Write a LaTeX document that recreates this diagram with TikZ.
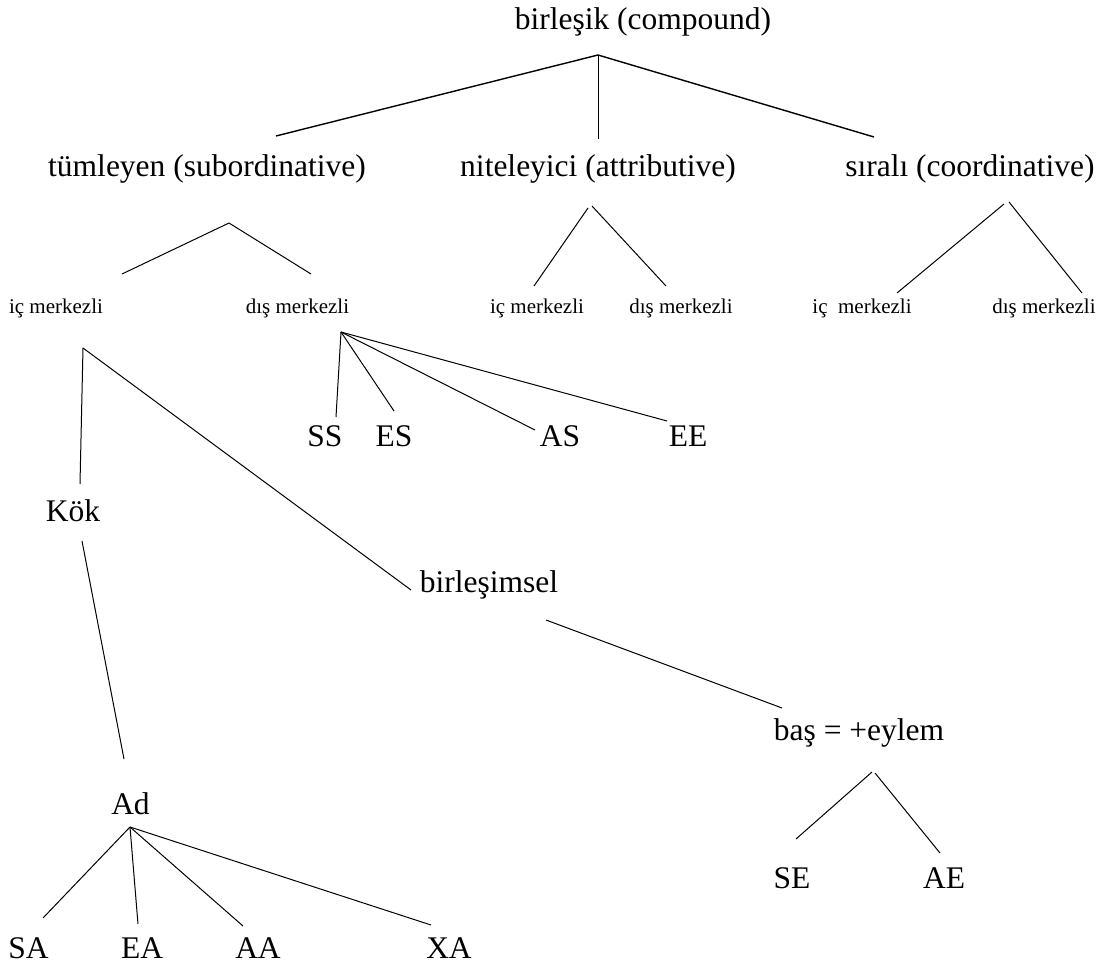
\documentclass[tikz,border=0pt]{standalone}
\usepackage{fontspec}
\setmainfont{Liberation Serif}
\begin{document}
\begin{tikzpicture}[x=1pt,y=-1pt,
  big/.style={inner sep=0pt,anchor=base,font=\fontsize{31.5}{36}\selectfont},
  small/.style={inner sep=0pt,anchor=base,font=\fontsize{21}{25}\selectfont},
  branch/.style={line width=1pt,line cap=butt},
  heavy/.style={line width=1.4pt,line cap=butt}]
\useasboundingbox (0,0) rectangle (1114,969);

% ---- labels ----
\node[big] (root) at (643,29) {birleşik (compound)};

\node[big] (tum) at (207,176) {tümleyen (subordinative)};
\node[big] (nit) at (598,176) {niteleyici (attributive)};
\node[big] (sir) at (970,176) {sıralı (coordinative)};

\node[small] (tumic)  at (56,313)   {iç merkezli};
\node[small] (tumdis) at (297.5,313) {dış merkezli};
\node[small] (nitic)  at (537,313)  {iç merkezli};
\node[small] (nitdis) at (681,313)  {dış merkezli};
\node[small] (siric)  at (862,313)  {iç\ \ merkezli};
\node[small] (sirdis) at (1044,313) {dış merkezli};

\node[big] (ss) at (325,446.5) {SS};
\node[big] (es) at (394,446.5) {ES};
\node[big] (as) at (560,446.5) {AS};
\node[big] (ee) at (688,446.5) {EE};

\node[big] (kok) at (73,521) {Kök};
\node[big] (bir) at (489,592) {birleşimsel};
\node[big] (bas) at (859,740) {baş = +eylem};
\node[big] (se)  at (792,888) {SE};
\node[big] (ae)  at (944,888) {AE};
\node[big] (ad)  at (130.5,814) {Ad};

\node[big] (sa) at (28.5,958) {SA};
\node[big] (ea) at (142,958) {EA};
\node[big] (aa) at (258,958) {AA};
\node[big] (xa) at (449,958) {XA};

% ---- branch end points ----
\coordinate (root-foot) at (598,55);
\coordinate (tum-top) at (276,136);
\coordinate (nit-top) at (598,139);
\coordinate (sir-top) at (874,137);

\coordinate (tum-foot) at (229,223);
\coordinate (tumic-top) at (122,274);
\coordinate (tumdis-top) at (311,274);

\coordinate (nit-footl) at (588,208);
\coordinate (nit-footr) at (592,206);
\coordinate (nitic-top) at (534,286);
\coordinate (nitdis-top) at (666,286);

\coordinate (sir-footl) at (1004,204);
\coordinate (sir-footr) at (1009,202);
\coordinate (siric-top) at (897,293);
\coordinate (sirdis-top) at (1082,293);

\coordinate (tumic-foot) at (83,348);
\coordinate (kok-top) at (80,484);
\coordinate (bir-top) at (411,590);

\coordinate (tumdis-foot) at (341,332);
\coordinate (ss-top) at (336,417);
\coordinate (es-top) at (394,411);
\coordinate (as-top) at (535,430);
\coordinate (ee-top) at (667,421);

\coordinate (kok-foot) at (82,541);
\coordinate (ad-top) at (124,759);

\coordinate (bir-foot) at (546,620);
\coordinate (bas-top) at (782,708);

\coordinate (ad-foot) at (130,827);
\coordinate (sa-top) at (43,918);
\coordinate (ea-top) at (138,924);
\coordinate (aa-top) at (243,926);
\coordinate (xa-top) at (431,925);

\coordinate (bas-footl) at (872,772);
\coordinate (bas-footr) at (875,773);
\coordinate (se-top) at (796,839);
\coordinate (ae-top) at (940,853);

% ---- branches ----
\draw[heavy] (root-foot) -- (tum-top);
\draw[branch] (root-foot) -- (nit-top);
\draw[heavy] (root-foot) -- (sir-top);

\draw[branch] (tum-foot) -- (tumic-top);
\draw[branch] (tum-foot) -- (tumdis-top);

\draw[branch] (nit-footl) -- (nitic-top);
\draw[branch] (nit-footr) -- (nitdis-top);

\draw[branch] (sir-footl) -- (siric-top);
\draw[branch] (sir-footr) -- (sirdis-top);

\draw[branch] (tumic-foot) -- (kok-top);
\draw[branch] (tumic-foot) -- (bir-top);

\draw[branch] (tumdis-foot) -- (ss-top);
\draw[branch] (tumdis-foot) -- (es-top);
\draw[branch] (tumdis-foot) -- (as-top);
\draw[branch] (tumdis-foot) -- (ee-top);

\draw[branch] (kok-foot) -- (ad-top);
\draw[branch] (bir-foot) -- (bas-top);

\draw[branch] (ad-foot) -- (sa-top);
\draw[branch] (ad-foot) -- (ea-top);
\draw[branch] (ad-foot) -- (aa-top);
\draw[branch] (ad-foot) -- (xa-top);

\draw[branch] (bas-footl) -- (se-top);
\draw[branch] (bas-footr) -- (ae-top);
\end{tikzpicture}
\end{document}
